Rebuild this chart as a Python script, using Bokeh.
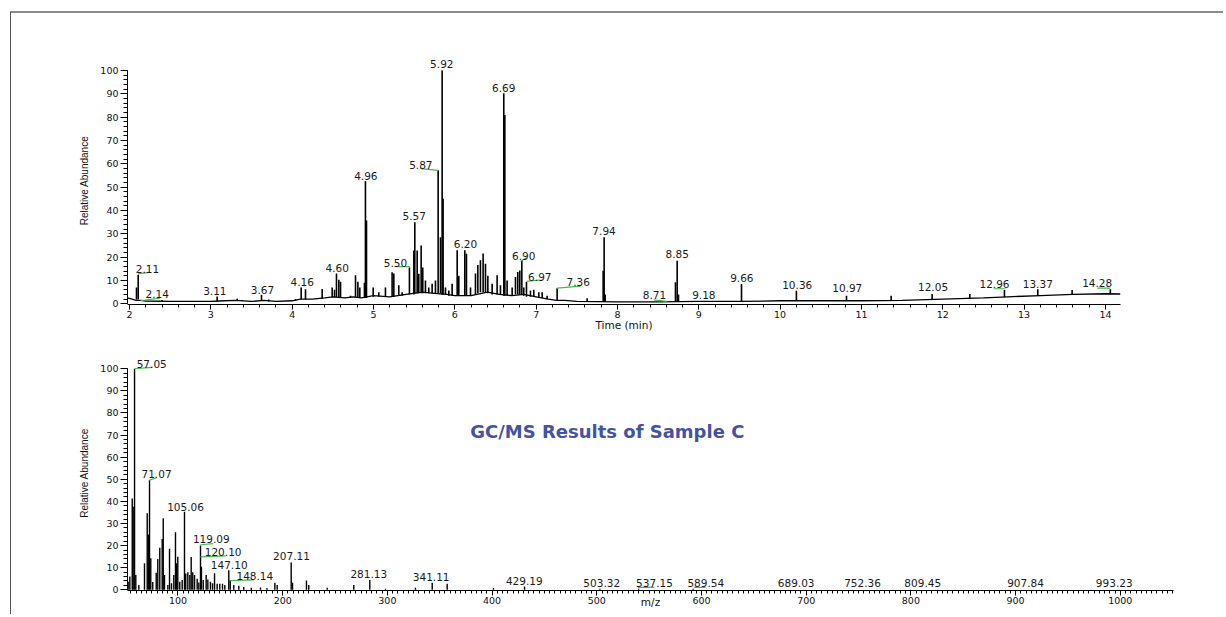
from bokeh.plotting import figure
from bokeh.models import ColumnDataSource, SingleIntervalTicker, Label, Range1d
from bokeh.embed import file_html
from bokeh.resources import INLINE
from bokeh.core.properties import value

# ---------------- Chromatogram (top) ----------------
# peak apex times (as drawn), apex heights, local baseline under each peak
chrom_peak_t = [2.086, 2.107, 2.40, 3.078, 3.324, 3.386, 3.623, 3.713, 4.041, 4.111, 4.164,
                4.369, 4.492, 4.521, 4.545, 4.574, 4.595, 4.718, 4.779, 4.808, 4.832, 4.889,
                4.901, 4.914, 4.996, 5.065, 5.147, 5.229, 5.250, 5.311, 5.352, 5.442, 5.496,
                5.508, 5.537, 5.557, 5.586, 5.606, 5.639, 5.680, 5.721, 5.762, 5.795, 5.824,
                5.844, 5.856, 5.885, 5.926, 5.967, 6.029, 6.049, 6.123, 6.143, 6.193, 6.254,
                6.283, 6.315, 6.348, 6.377, 6.406, 6.459, 6.520, 6.561, 6.602, 6.615, 6.643,
                6.705, 6.746, 6.774, 6.799, 6.824, 6.848, 6.881, 6.930, 6.971, 7.033, 7.074,
                7.135, 7.258, 7.627, 7.824, 7.836, 7.849, 8.713, 8.734, 8.750, 9.525, 10.20,
                10.816, 11.365, 11.869, 12.332, 12.758, 13.168, 13.59, 14.06]
chrom_peak_h = [7.0, 12.5, 1.6, 3.1, 2.2, 1.6, 3.9, 1.8, 2.0, 7.0, 6.2,
                6.3, 7.0, 6.0, 13.0, 10.3, 9.5, 3.5, 12.2, 9.5, 7.0, 9.0,
                52.6, 35.7, 7.0, 5.0, 7.0, 13.5, 13.0, 8.0, 5.0, 15.6, 22.8,
                35.0, 22.8, 12.9, 25.0, 15.6, 10.0, 7.0, 8.6, 10.0, 57.2, 28.5,
                100.0, 45.0, 7.0, 5.7, 8.6, 23.0, 12.0, 23.0, 21.5, 7.0, 13.0,
                16.6, 18.7, 21.6, 17.2, 12.0, 8.6, 12.2, 8.0, 90.2, 80.9, 10.0,
                7.0, 11.5, 13.6, 14.3, 18.8, 7.0, 9.3, 5.7, 6.0, 5.0, 5.0,
                3.5, 6.7, 2.4, 14.2, 28.5, 4.0, 9.2, 18.5, 4.0, 8.5, 5.6,
                3.4, 3.4, 4.2, 4.2, 5.9, 6.2, 5.9, 6.2]
chrom_peak_base = [1.8, 1.8, 1.0, 1.0, 1.2, 1.2, 1.2, 1.0, 1.3, 1.8, 1.8,
                   2.2, 2.8, 2.8, 2.8, 2.8, 2.6, 2.5, 2.8, 2.8, 2.6, 2.5,
                   2.5, 2.5, 3.0, 3.0, 3.0, 3.0, 3.0, 3.5, 3.5, 4.0, 4.0,
                   4.5, 4.5, 4.5, 4.5, 4.5, 4.5, 4.5, 4.5, 4.5, 4.5, 4.5,
                   4.0, 4.0, 4.0, 3.5, 3.5, 3.5, 3.5, 3.5, 3.5, 3.5, 4.0,
                   4.5, 5.0, 5.0, 5.0, 4.5, 4.0, 4.0, 4.0, 3.5, 3.5, 3.5,
                   3.5, 4.0, 4.0, 4.0, 4.0, 3.5, 3.0, 3.0, 3.0, 2.5, 2.5,
                   2.0, 1.5, 1.0, 0.8, 0.8, 0.8, 0.8, 0.8, 0.8, 1.0, 1.3,
                   1.3, 1.5, 2.0, 2.3, 2.8, 3.5, 4.0, 4.3]
# baseline trace
chrom_base_t = [1.975, 2.03, 2.08, 2.14, 2.2, 2.5, 3.0, 3.1, 3.3, 3.5, 3.65, 3.8, 4.0, 4.1,
                4.25, 4.4, 4.5, 4.65, 4.75, 4.85, 5.0, 5.2, 5.4, 5.6, 5.75, 5.9, 6.0, 6.2,
                6.4, 6.55, 6.7, 6.85, 7.0, 7.15, 7.25, 7.35, 7.5, 8.0, 8.5, 9.0, 9.5, 10.0,
                10.5, 11.0, 11.5, 12.0, 12.5, 12.8, 13.2, 13.6, 14.0, 14.185]
chrom_base_h = [2.5, 2.0, 1.5, 1.5, 1.2, 1.0, 1.0, 1.2, 1.5, 1.0, 1.5, 1.0, 1.3, 2.0,
                2.0, 2.5, 3.0, 2.5, 3.0, 2.5, 3.5, 3.0, 4.0, 5.0, 4.5, 4.0, 3.5, 3.5,
                5.0, 4.0, 3.5, 4.0, 3.0, 2.0, 1.5, 1.5, 1.0, 0.8, 0.8, 1.0, 1.0, 1.3,
                1.3, 1.3, 1.5, 2.0, 2.5, 3.0, 3.5, 4.0, 4.3, 4.2]
# peak labels
chrom_lab_text = ["2.11", "2.14", "3.11", "3.67", "4.16", "4.60", "4.96", "5.50", "5.57",
                  "5.87", "5.92", "6.20", "6.69", "6.90", "6.97", "7.36", "7.94", "8.71",
                  "8.85", "9.18", "9.66", "10.36", "10.97", "12.05", "12.96", "13.37", "14.28"]
chrom_lab_t = [2.22, 2.34, 3.049, 3.635, 4.123, 4.553, 4.906, 5.271, 5.50,
               5.582, 5.84, 6.131, 6.602, 6.848, 7.045, 7.518, 7.835, 8.455,
               8.734, 9.062, 9.529, 10.21, 10.825, 11.88, 12.636, 13.168, 13.898]
chrom_lab_h = [15.0, 4.3, 5.3, 6.0, 9.2, 15.2, 54.8, 17.6, 37.6,
               59.4, 102.7, 25.7, 92.6, 20.6, 11.6, 9.2, 31.4, 3.7,
               21.4, 3.7, 11.0, 8.0, 6.6, 7.0, 8.5, 8.5, 8.9]
# green leader lines
chrom_lead_t0 = [2.107, 2.135, 5.27, 5.578, 6.808, 6.881, 7.258, 8.447, 12.627, 13.898]
chrom_lead_h0 = [12.8, 1.3, 15.9, 57.9, 18.2, 9.6, 6.7, 1.7, 6.45, 6.75]
chrom_lead_t1 = [2.238, 2.373, 5.447, 5.795, 6.881, 7.053, 7.545, 8.611, 12.771, 14.06]
chrom_lead_h1 = [13.5, 2.4, 15.9, 57.2, 19.7, 10.2, 7.6, 1.0, 6.45, 6.75]

# ---------------- Mass spectrum (bottom) ----------------
ms_mz = [52.4, 54.0, 56.3, 57.2, 58.5, 59.7, 62.6, 68.0, 70.6, 71.8, 72.8, 74.0, 75.9, 79.2,
         80.7, 82.6, 84.9, 85.9, 87.1, 90.3, 91.9, 93.8, 96.0, 97.6, 98.6, 99.8, 101.7, 104.0,
         106.2, 107.4, 109.4, 111.3, 112.6, 114.1, 115.8, 118.3, 119.9, 121.5, 122.4, 124.1,
         126.9, 128.5, 131.0, 133.0, 134.9, 137.4, 139.9, 142.5, 144.7, 148.5, 149.9, 153.3,
         158.1, 162.8, 170.0, 178.8, 185.0, 192.5, 194.7, 208.1, 209.4, 222.7, 224.9, 242.5,
         267.9, 283.2, 298.2, 326.8, 342.8, 357.1, 401.3, 431.0, 503.0, 540.0, 592.0]
ms_int = [3.7, 6.0, 41.3, 37.6, 100.0, 6.7, 2.2, 12.0, 34.6, 25.0, 49.6, 14.3, 3.5, 7.7,
          14.0, 19.0, 23.0, 32.4, 6.7, 2.2, 18.6, 3.0, 6.7, 26.1, 12.0, 15.0, 3.7, 4.4,
          35.3, 7.4, 8.0, 6.7, 14.9, 8.0, 6.7, 5.0, 3.3, 20.1, 10.4, 4.4,
          6.7, 4.7, 3.7, 3.0, 7.5, 2.7, 2.7, 2.7, 2.2, 8.9, 4.4, 2.2,
          1.8, 1.3, 1.0, 1.1, 0.8, 3.2, 2.2, 12.4, 3.2, 4.2, 2.2, 1.0,
          2.2, 4.5, 0.5, 1.0, 3.2, 2.8, 0.8, 1.5, 0.5, 0.5, 0.5]
ms_lab_text = ["57.05", "71.07", "105.06", "119.09", "120.10", "147.10", "148.14", "207.11",
               "281.13", "341.11", "429.19", "503.32", "537.15", "589.54", "689.03", "752.36",
               "809.45", "907.84", "993.23"]
ms_lab_mz = [74.9, 79.5, 107.2, 131.8, 143.1, 148.9, 173.4, 208.4,
             282.2, 341.8, 430.7, 504.7, 555.1, 604.1, 690.4, 753.8,
             811.3, 909.5, 994.2]
ms_lab_h = [102.0, 52.2, 37.6, 22.8, 17.2, 11.2, 6.3, 15.2,
            7.2, 5.7, 4.2, 3.0, 3.0, 3.0, 3.0, 3.0,
            3.0, 3.0, 3.0]
ms_lead_mz0 = [58.5, 72.8, 121.5, 121.5, 149.5, 539.1, 592.6]
ms_lead_h0 = [100.0, 49.6, 20.4, 14.9, 4.2, 1.1, 1.1]
ms_lead_mz1 = [75.4, 79.5, 133.7, 145.4, 172.4, 555.0, 603.8]
ms_lead_h1 = [100.6, 50.7, 20.9, 15.4, 4.5, 1.1, 1.1]

TITLE = "GC/MS Results of Sample C"

NUM_FONT = "DejaVu Sans"
GREEN = "#45b84a"
INK = "#111111"


def style_axes(p, xint, xminor, xlabel, standoff):
    p.xgrid.visible = False
    p.ygrid.visible = False
    p.outline_line_color = None
    p.background_fill_color = "white"
    p.border_fill_color = "white"
    p.xaxis.ticker = SingleIntervalTicker(interval=xint, num_minor_ticks=xminor)
    p.yaxis.ticker = SingleIntervalTicker(interval=10, num_minor_ticks=5)
    p.yaxis.bounds = (0, 100)
    for ax in (p.xaxis[0], p.yaxis[0]):
        ax.axis_line_color = "black"
        ax.axis_line_width = 1
        ax.major_tick_line_color = "black"
        ax.minor_tick_line_color = "black"
        ax.major_tick_in = 0
        ax.minor_tick_in = 0
        ax.major_label_text_font = NUM_FONT
        ax.major_label_text_font_size = "9.5px"
        ax.major_label_text_color = INK
        ax.major_label_standoff = 2
    p.xaxis.major_tick_out = 5
    p.xaxis.minor_tick_out = 3
    p.yaxis.major_tick_out = 7
    p.yaxis.minor_tick_out = 4
    p.xaxis.major_label_standoff = 1
    p.yaxis.axis_label = "Relative Abundance"
    p.yaxis.axis_label_text_font = "Liberation Sans"
    p.yaxis.axis_label_text_font_size = "10px"
    p.yaxis.axis_label_text_font_style = "normal"
    p.yaxis.axis_label_text_color = INK
    p.yaxis.axis_label_standoff = 7
    p.xaxis.axis_label = xlabel
    p.xaxis.axis_label_text_font = NUM_FONT
    p.xaxis.axis_label_text_font_size = "10.5px"
    p.xaxis.axis_label_text_font_style = "normal"
    p.xaxis.axis_label_text_color = INK
    p.xaxis.axis_label_standoff = standoff


# ---- top figure ----
p1 = figure(width=1213, height=321, output_backend="svg", toolbar_location=None,
            x_range=Range1d(1.9754, 14.185), y_range=Range1d(-0.3, 106),
            min_border_left=116, min_border_right=104, min_border_top=43, min_border_bottom=30,
            margin=(11, 0, 0, 10),
            styles={"border-top": "2px solid #8c8c8c", "border-left": "1px solid #555555"})
style_axes(p1, 1, 5, "Time (min)", -2)

pk = ColumnDataSource(dict(t=chrom_peak_t, h=chrom_peak_h, b=chrom_peak_base))
p1.segment(x0="t", y0="b", x1="t", y1="h", source=pk, line_color="black", line_width=1.6)
p1.line(chrom_base_t, chrom_base_h, line_color="black", line_width=1.3)
p1.segment(x0=chrom_lead_t0, y0=chrom_lead_h0, x1=chrom_lead_t1, y1=chrom_lead_h1,
           line_color=GREEN, line_width=1.2)
lab1 = ColumnDataSource(dict(x=chrom_lab_t, y=chrom_lab_h, text=chrom_lab_text))
p1.text(x="x", y="y", text="text", source=lab1, text_font=value(NUM_FONT),
        text_font_size="10.5px", text_color="#1a1a1a", text_align="center",
        text_baseline="middle")

# ---- bottom figure ----
p2 = figure(width=1213, height=282, output_backend="svg", toolbar_location=None,
            x_range=Range1d(51.77, 1050.8), y_range=Range1d(-0.3, 106),
            min_border_left=116, min_border_right=51, min_border_top=23, min_border_bottom=24,
            margin=(0, 0, 0, 10),
            styles={"border-left": "1px solid #555555"})
style_axes(p2, 100, 20, "m/z", -11)

p2.segment(x0=ms_mz, y0=[0] * len(ms_mz), x1=ms_mz, y1=ms_int,
           line_color="black", line_width=1.4)
p2.segment(x0=ms_lead_mz0, y0=ms_lead_h0, x1=ms_lead_mz1, y1=ms_lead_h1,
           line_color=GREEN, line_width=1.2)
lab2 = ColumnDataSource(dict(x=ms_lab_mz, y=ms_lab_h, text=ms_lab_text))
p2.text(x="x", y="y", text="text", source=lab2, text_font=value(NUM_FONT),
        text_font_size="10.5px", text_color="#1a1a1a", text_align="center",
        text_baseline="middle")

p2.add_layout(Label(x=510, y=71.5, text=TITLE, text_font="DejaVu Sans",
                    text_font_size="18px", text_font_style="bold", text_color="#4553a3",
                    text_align="center", text_baseline="middle"))

open("out.html", "w").write(file_html([p1, p2], INLINE))
